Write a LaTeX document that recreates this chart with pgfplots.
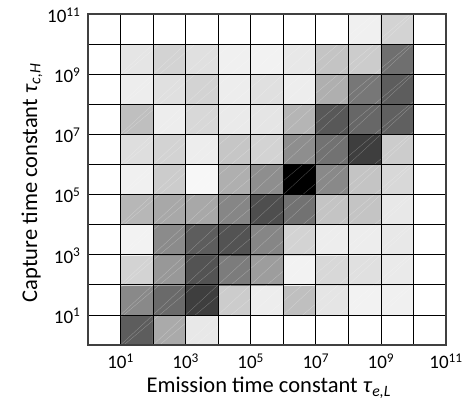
\documentclass[border=0pt]{standalone}
\usepackage{fontspec}
\setmainfont{Carlito}
\usepackage{pgfplots}
\pgfplotsset{compat=1.18}

% Occupancy map: rows = capture decade, columns = emission decade,
% value = shade in percent black
\pgfplotstableread{
x y c
0.5 0.5 0
1.5 0.5 63
2.5 0.5 33
3.5 0.5 9
4.5 0.5 0
5.5 0.5 0
6.5 0.5 0
7.5 0.5 0
8.5 0.5 0
9.5 0.5 0
10.5 0.5 0
0.5 1.5 0
1.5 1.5 46
2.5 1.5 58
3.5 1.5 75
4.5 1.5 20
5.5 1.5 7
6.5 1.5 25
7.5 1.5 10
8.5 1.5 5
9.5 1.5 6
10.5 1.5 0
0.5 2.5 0
1.5 2.5 17
2.5 2.5 40
3.5 2.5 67
4.5 2.5 51
5.5 2.5 38
6.5 2.5 5
7.5 2.5 15
8.5 2.5 12
9.5 2.5 8
10.5 2.5 0
0.5 3.5 0
1.5 3.5 5
2.5 3.5 45
3.5 3.5 63
4.5 3.5 67
5.5 3.5 47
6.5 3.5 17
7.5 3.5 7
8.5 3.5 7
9.5 3.5 9
10.5 3.5 0
0.5 4.5 0
1.5 4.5 28
2.5 4.5 34
3.5 4.5 34
4.5 4.5 47
5.5 4.5 69
6.5 4.5 55
7.5 4.5 23
8.5 4.5 23
9.5 4.5 9
10.5 4.5 0
0.5 5.5 0
1.5 5.5 6
2.5 5.5 20
3.5 5.5 3
4.5 5.5 31
5.5 5.5 44
6.5 5.5 100
7.5 5.5 46
8.5 5.5 23
9.5 5.5 15
10.5 5.5 0
0.5 6.5 0
1.5 6.5 13
2.5 6.5 17
3.5 6.5 7
4.5 6.5 22
5.5 6.5 17
6.5 6.5 44
7.5 6.5 55
8.5 6.5 75
9.5 6.5 20
10.5 6.5 0
0.5 7.5 0
1.5 7.5 25
2.5 7.5 7
3.5 7.5 15
4.5 7.5 8
5.5 7.5 10
6.5 7.5 29
7.5 7.5 65
8.5 7.5 59
9.5 7.5 62
10.5 7.5 0
0.5 8.5 0
1.5 8.5 7
2.5 8.5 12
3.5 8.5 17
4.5 8.5 7
5.5 8.5 12
6.5 8.5 7
7.5 8.5 31
8.5 8.5 53
9.5 8.5 63
10.5 8.5 0
0.5 9.5 0
1.5 9.5 10
2.5 9.5 17
3.5 9.5 12
4.5 9.5 6
5.5 9.5 5
6.5 9.5 9
7.5 9.5 23
8.5 9.5 20
9.5 9.5 56
10.5 9.5 0
0.5 10.5 0
1.5 10.5 0
2.5 10.5 0
3.5 10.5 0
4.5 10.5 0
5.5 10.5 0
6.5 10.5 0
7.5 10.5 0
8.5 10.5 6
9.5 10.5 17
10.5 10.5 0
}\cells

% faint diagonals across the shaded cells
\pgfplotstableread{
x y
0 -10
11 1

0 -9
11 2

0 -8
11 3

0 -7
11 4

0 -6
11 5

0 -5
11 6

0 -4
11 7

0 -3
11 8

0 -2
11 9

0 -1
11 10

0 0
11 11

0 1
11 12

0 2
11 13

0 3
11 14

0 4
11 15

0 5
11 16

0 6
11 17

0 7
11 18

0 8
11 19

0 9
11 20

0 10
11 21
}\diagonals

\begin{document}
\begin{tikzpicture}
\begin{axis}[
  scale only axis,
  width=358pt, height=331pt,
  xmin=0, xmax=11, ymin=0, ymax=11,
  xtick={0,...,11}, ytick={0,...,11},
  xticklabels={,10\textsuperscript{1},,10\textsuperscript{3},,10\textsuperscript{5},,10\textsuperscript{7},,10\textsuperscript{9},,10\textsuperscript{11}},
  yticklabels={,10\textsuperscript{1},,10\textsuperscript{3},,10\textsuperscript{5},,10\textsuperscript{7},,10\textsuperscript{9},,10\textsuperscript{11}},
  major tick length=0pt,
  grid=major,
  grid style={black, line width=0.8pt},
  axis on top,
  axis line style={black!75, line width=1.2pt},
  colormap={bw}{gray(0cm)=(1); gray(1cm)=(0)},
  point meta min=0, point meta max=100,
  tick label style={font=\fontsize{19}{22}\selectfont},
  xticklabel style={yshift=-5pt},
  yticklabel style={xshift=-4pt, yshift=-1pt},
  xlabel={Emission time constant \textit{τ}\textsubscript{\textit{e,L}}},
  ylabel={Capture time constant \textit{τ}\textsubscript{\textit{c,H}}},
  every axis x label/.style={at={(axis description cs:0.505,-0.145)}, anchor=base,
    font=\fontsize{22.5}{26}\selectfont},
  every axis y label/.style={at={(axis description cs:-0.142,0.49)}, anchor=base, rotate=90,
    font=\fontsize{22.5}{26}\selectfont},
]
\addplot[matrix plot*, mesh/cols=11, point meta=explicit] table[meta=c] {\cells};
\addplot[white, opacity=0.3, line width=0.35pt, empty line=jump] table {\diagonals};
\end{axis}
% page margins around the axis box
\path ([xshift=-88pt, yshift=-66pt]current axis.south west)
  rectangle ([xshift=22pt, yshift=14pt]current axis.north east);
\end{tikzpicture}
\end{document}
